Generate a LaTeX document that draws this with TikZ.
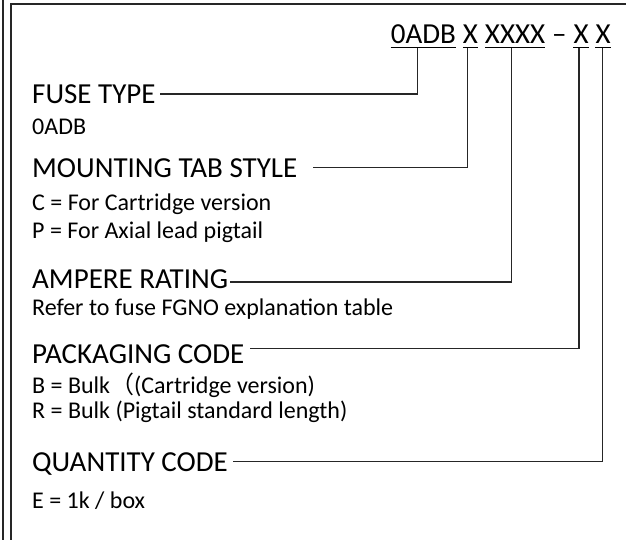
\documentclass[tikz,border=0pt]{standalone}
\usepackage{fontspec}
\setmainfont{Carlito}
\newfontfamily\cjk{Noto Sans CJK SC}
\begin{document}
\begin{tikzpicture}[x=1pt,y=-1pt,
  head/.style={font=\fontsize{29}{34}\selectfont, inner sep=0pt, anchor=base west},
  body/.style={font=\fontsize{24}{28}\selectfont, inner sep=0pt, anchor=base west},
  conn/.style={line width=1.1pt, black!85},
  uline/.style={line width=1.3pt},
  frameline/.style={line width=2pt, black!85}]
\useasboundingbox (0,0) rectangle (626,540);
% frame
\draw[frameline] (2.5,0) -- (2.5,540);
\draw[frameline] (11,540) -- (11,4) -- (626,4);
% header code
\node[head] (g1) at (390.7,44) {0ADB};
\node[head] (g2) at ([xshift=6.55pt]g1.base east) {X};
\node[head] (g3) at ([xshift=6.55pt]g2.base east) {XXXX};
\node[head] (gd) at ([xshift=6.55pt]g3.base east) {–};
\node[head] (g5) at ([xshift=6.55pt]gd.base east) {X};
\node[head] (g6) at ([xshift=6.55pt]g5.base east) {X};
\foreach \n in {g1,g2,g3,g5,g6}
  \draw[uline] ([yshift=-3.7pt]\n.base west) -- ([yshift=-3.7pt]\n.base east);
% headings and descriptions
\node[head] (h1) at (32,104) {FUSE TYPE};
\node[body] (d1) at (32,135) {0ADB};
\node[head] (h2) at (32,178) {MOUNTING TAB STYLE};
\node[body] (d2a) at (32,211) {C = For Cartridge version};
\node[body] (d2b) at (32,238) {P = For Axial lead pigtail};
\node[head] (h3) at (32,288) {AMPERE RATING};
\node[body] (d3) at (32,315) {Refer to fuse FGNO explanation table};
\node[head] (h4) at (32,363) {PACKAGING CODE};
\node[body] (d4a) at (32,393) {B = Bulk{\cjk （}(Cartridge version)};
\node[body] (d4b) at (32,418) {R = Bulk (Pigtail standard length)};
\node[head] (h5) at (32,471) {QUANTITY CODE};
\node[body] (d5) at (32,508) {E = 1k / box};
% connector coordinates
\coordinate (t1) at (417.7,48.5);
\coordinate (t2) at (467.3,48.5);
\coordinate (t3) at (511.7,48.5);
\coordinate (t4) at (579,48.5);
\coordinate (t5) at (602.3,48.5);
\coordinate (e1) at ([xshift=4pt]h1.east |- 0,94);
\coordinate (e2) at (313,167.7);
\coordinate (e3) at (230,282);
\coordinate (e4) at (250,348.3);
\coordinate (e5) at (233,461.7);
\draw[conn] (t1) |- (e1);
\draw[conn] (t2) |- (e2);
\draw[conn] (t3) |- (e3);
\draw[conn] (t4) |- (e4);
\draw[conn] (t5) |- (e5);
\end{tikzpicture}
\end{document}
